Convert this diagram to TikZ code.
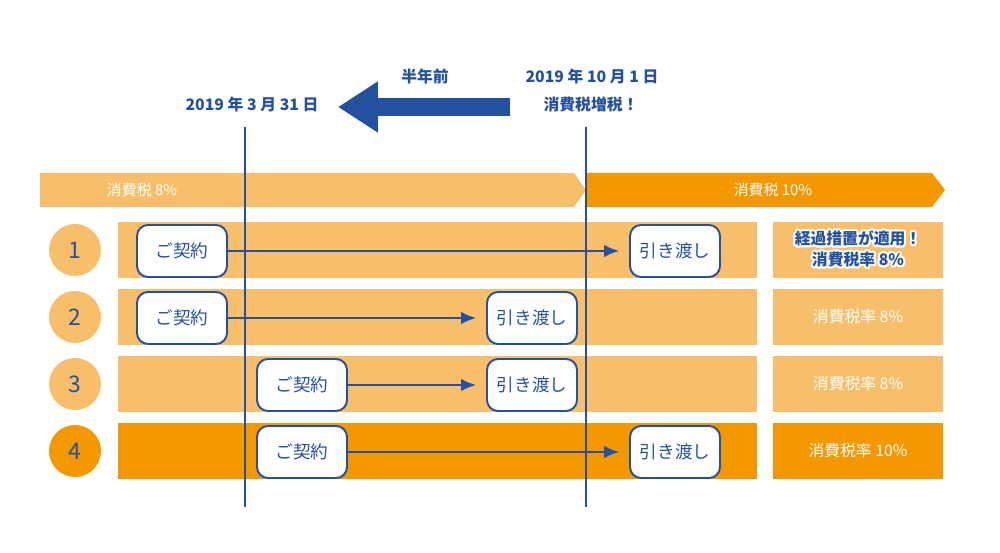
\documentclass[tikz,border=0pt]{standalone}
\usepackage{fontspec}
\setmainfont{Noto Sans CJK JP}
\usepackage{contour}
\contourlength{1.1pt}
\usetikzlibrary{arrows.meta}
\definecolor{kblue}{HTML}{2450A0}
\definecolor{lorange}{HTML}{F7BF6B}
\definecolor{dorange}{HTML}{F39800}
\begin{document}
\begin{tikzpicture}[x=0.02cm,y=-0.02cm,>={Latex[length=8.5pt,width=7pt]},
	keiyaku/.style={draw=kblue,line width=1.1pt,fill=white,rounded corners=0.22cm,minimum width=1.8cm,minimum height=1.04cm,text=kblue,font=\fontsize{10}{12}\selectfont},
	num/.style={circle,minimum size=1.04cm,text=kblue,font=\fontsize{13}{15}\selectfont},
	lbl/.style={text=kblue,font=\fontsize{9}{11}\selectfont\bfseries},
	rate/.style={minimum width=3.4cm,minimum height=1.14cm,inner sep=0pt,text=white,align=center,font=\fontsize{9}{11}\selectfont}]
	\useasboundingbox (0,0) rectangle (1000,553);
	% top labels and big arrow
	\node[lbl] (half) at (425,76) {半年前};
	\node[lbl] (oct) at (592,76) {2019 年 10 月 1 日};
	\node[lbl] (mar) at (252,104) {2019 年 3 月 31 日};
	\node[lbl] (up) at (591,104) {消費税増税！};
	\coordinate (bs) at (510,107);
	\coordinate (be) at (338,107);
	\draw[kblue,line width=10.8pt,-{Triangle[length=22.7pt,width=27.5pt]}] (bs) -- (be);
	% tax bands
	\fill[lorange] (40,173) -- (574,173) -- (586,190) -- (574,207) -- (40,207) -- cycle;
	\fill[dorange] (586,173) -- (932,173) -- (945,190) -- (932,207) -- (586,207) -- cycle;
	\node[text=white,font=\fontsize{8.5}{10}\selectfont] (t8) at (142,190) {消費税 8\%};
	\node[text=white,font=\fontsize{8.5}{10}\selectfont] (t10) at (773,190) {消費税 10\%};
	% rows
	\foreach \y/\c in {250/lorange,317/lorange,384/lorange,451/dorange}{
		\fill[\c] (118,\y-28) rectangle (757,\y+28);
	}
	\node[num,fill=lorange] (n1) at (75,250) {1};
	\node[num,fill=lorange] (n2) at (75,317) {2};
	\node[num,fill=lorange] (n3) at (75,384) {3};
	\node[num,fill=dorange] (n4) at (75,451) {4};
	% dates
	\coordinate (a1) at (245,127);
	\coordinate (a2) at (245,507);
	\coordinate (b1) at (586,127);
	\coordinate (b2) at (586,507);
	\draw[kblue,line width=0.8pt] (a1) -- (a2);
	\draw[kblue,line width=0.8pt] (b1) -- (b2);
	\node[keiyaku] (k1) at (182,251) {ご契約};
	\node[keiyaku] (k2) at (182,318) {ご契約};
	\node[keiyaku] (k3) at (302,385) {ご契約};
	\node[keiyaku] (k4) at (302,452) {ご契約};
	\node[keiyaku] (h1) at (675,251) {引き渡し};
	\node[keiyaku] (h2) at (532,318) {引き渡し};
	\node[keiyaku] (h3) at (532,385) {引き渡し};
	\node[keiyaku] (h4) at (675,452) {引き渡し};
	\foreach \i in {1,...,4}{
		\draw[->,kblue,line width=0.9pt,shorten >=0.2cm] (k\i) -- (h\i);
	}
	% rates
	\node[rate,fill=lorange,text=kblue,font=\fontsize{9}{12}\selectfont\bfseries] (r1) at (858,250) {\contour{white}{経過措置が適用！}\\\contour{white}{消費税率 8\%}};
	\node[rate,fill=lorange] (r2) at (858,317) {消費税率 8\%};
	\node[rate,fill=lorange] (r3) at (858,384) {消費税率 8\%};
	\node[rate,fill=dorange] (r4) at (858,451) {消費税率 10\%};
\end{tikzpicture}
\end{document}
